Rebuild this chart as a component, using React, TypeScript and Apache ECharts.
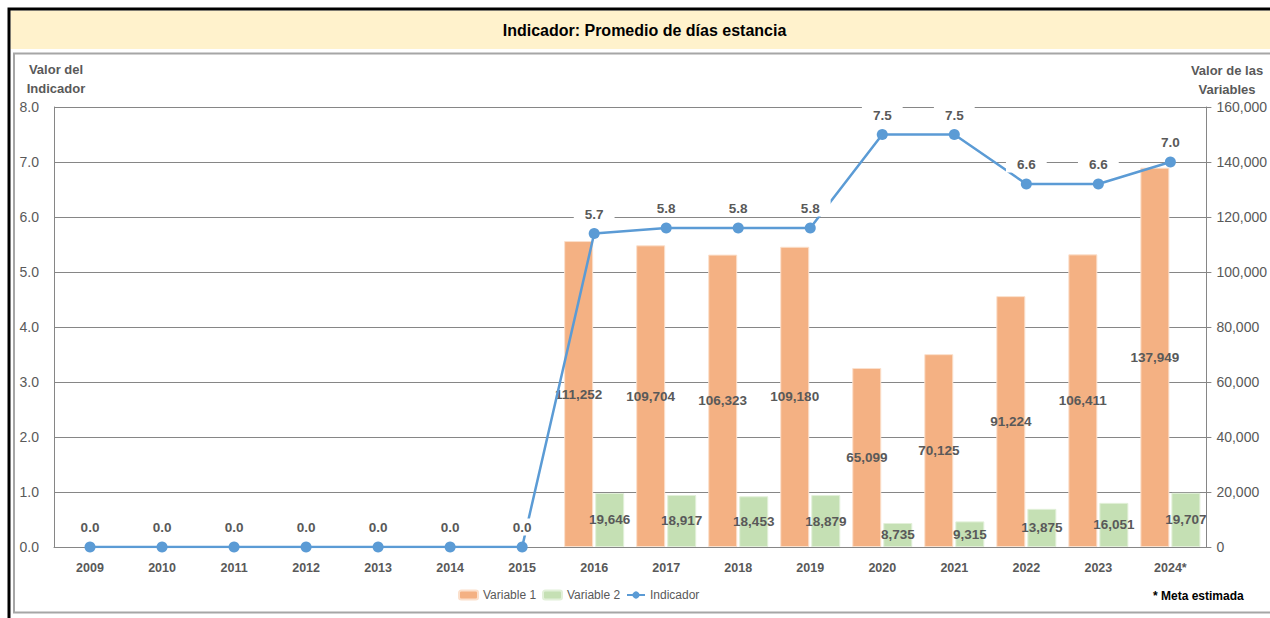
import React, { useEffect, useRef } from "react";
import * as echarts from "echarts";

const years = ["2009", "2010", "2011", "2012", "2013", "2014", "2015", "2016", "2017", "2018", "2019", "2020", "2021", "2022", "2023", "2024*"];
const variable1 = [null, null, null, null, null, null, null, 111252, 109704, 106323, 109180, 65099, 70125, 91224, 106411, 137949];
const variable2 = [null, null, null, null, null, null, null, 19646, 18917, 18453, 18879, 8735, 9315, 13875, 16051, 19707];
const indicador = [0.0, 0.0, 0.0, 0.0, 0.0, 0.0, 0.0, 5.7, 5.8, 5.8, 5.8, 7.5, 7.5, 6.6, 6.6, 7.0];
const leftTicks = { min: 0, max: 8, interval: 1 };
const rightTicks = { min: 0, max: 160000, interval: 20000 };

const FONT = "'Liberation Sans', Arial, sans-serif";
const GRAY = "#595959";
const fmtNum = (v: number) => v.toLocaleString("en-US");

export default function App() {
  const ref = useRef<HTMLDivElement>(null);
  useEffect(() => {
    if (!ref.current) return;
    const chart = echarts.init(ref.current, null, { renderer: "svg" });
    const legendText = { color: GRAY, fontSize: 12, fontFamily: FONT };
    chart.setOption({
      animation: false,
      textStyle: { fontFamily: FONT },
      graphic: [
        { type: "rect", z: -10, silent: true, shape: { x: 10.5, y: 10.5, width: 1300, height: 38.5 }, style: { fill: "#FFF2CC" } },
        { type: "rect", z: -9, silent: true, shape: { x: 9, y: 9, width: 1300, height: 700 }, style: { fill: "none", stroke: "#000", lineWidth: 3 } },
        { type: "rect", z: -9, silent: true, shape: { x: 14, y: 53.5, width: 1300, height: 559 }, style: { fill: "none", stroke: "#A6A6A6", lineWidth: 2 } },
        { type: "text", x: 644.5, y: 30, style: { text: "Indicador: Promedio de días estancia", font: `bold 16px ${FONT}`, fill: "#000", textAlign: "center", textVerticalAlign: "middle", align: "center", verticalAlign: "middle" } },
        { type: "text", x: 56, y: 79, style: { text: "Valor del\nIndicador", font: `bold 13px ${FONT}`, fill: GRAY, lineHeight: 19, textAlign: "center", textVerticalAlign: "middle", align: "center", verticalAlign: "middle" } },
        { type: "text", x: 1227, y: 80, style: { text: "Valor de las\nVariables", font: `bold 13px ${FONT}`, fill: GRAY, lineHeight: 19, textAlign: "center", textVerticalAlign: "middle", align: "center", verticalAlign: "middle" } },
        { type: "text", x: 1153, y: 596, style: { text: "* Meta estimada", font: `bold 12px ${FONT}`, fill: "#000", textAlign: "left", textVerticalAlign: "middle", align: "left", verticalAlign: "middle" } },
      ],
      legend: [
        { data: ["Variable 1"], left: 458, top: 589, padding: 0, itemWidth: 19, itemHeight: 9, textStyle: legendText, selectedMode: false },
        { data: ["Variable 2"], left: 542, top: 589, padding: 0, itemWidth: 19, itemHeight: 9, textStyle: legendText, selectedMode: false },
        { data: ["Indicador"], left: 626, top: 589, padding: 0, itemWidth: 18, itemHeight: 9, textStyle: legendText, selectedMode: false },
      ],
      grid: { left: 54, right: 62, top: 107, bottom: 71, containLabel: false },
      xAxis: {
        type: "category",
        data: years,
        axisLine: { lineStyle: { color: "#868686", width: 1 } },
        axisTick: { show: false },
        axisLabel: { color: GRAY, fontSize: 12.5, fontWeight: "bold", margin: 14 },
      },
      yAxis: [
        {
          type: "value",
          ...leftTicks,
          position: "left",
          axisLine: { show: true, lineStyle: { color: "#868686" } },
          axisTick: { show: false },
          splitLine: { lineStyle: { color: "#868686", width: 1 } },
          axisLabel: { color: GRAY, fontSize: 14, margin: 15, formatter: (v: number) => v.toFixed(1) },
        },
        {
          type: "value",
          ...rightTicks,
          position: "right",
          axisLine: { show: true, lineStyle: { color: "#868686" } },
          axisTick: { show: true, length: 5, lineStyle: { color: "#868686" } },
          splitLine: { show: false },
          axisLabel: { color: GRAY, fontSize: 14, margin: 10, formatter: (v: number) => fmtNum(v) },
        },
      ],
      series: [
        {
          name: "Variable 1",
          type: "bar",
          yAxisIndex: 1,
          data: variable1,
          barWidth: 29,
          barGap: "7%",
          itemStyle: { color: "#F4B183", borderColor: "#FBE0CC", borderWidth: 1 },
          label: { show: true, position: "inside", color: GRAY, fontSize: 13.5, fontWeight: "bold", formatter: (p: any) => fmtNum(p.value) },
        },
        {
          name: "Variable 2",
          type: "bar",
          yAxisIndex: 1,
          data: variable2,
          barWidth: 29,
          itemStyle: { color: "#C5E0B4", borderColor: "#E2F0D9", borderWidth: 1 },
          label: { show: true, position: "inside", color: GRAY, fontSize: 13.5, fontWeight: "bold", formatter: (p: any) => fmtNum(p.value) },
        },
        {
          name: "Indicador",
          type: "line",
          yAxisIndex: 0,
          data: indicador,
          z: 5,
          color: "#5B9BD5",
          lineStyle: { color: "#5B9BD5", width: 2.5 },
          itemStyle: { color: "#5B9BD5" },
          symbol: "circle",
          symbolSize: 11,
          label: {
            show: true,
            position: "top",
            distance: 6,
            color: GRAY,
            fontSize: 13.5,
            fontWeight: "bold",
            backgroundColor: "#fff",
            padding: [2, 11, 1, 11],
            formatter: (p: any) => Number(p.value).toFixed(1),
          },
        },
      ],
    });
    return () => chart.dispose();
  }, []);
  return <div ref={ref} style={{ position: "absolute", left: 0, top: 0, width: 1270, height: 618 }} />;
}
